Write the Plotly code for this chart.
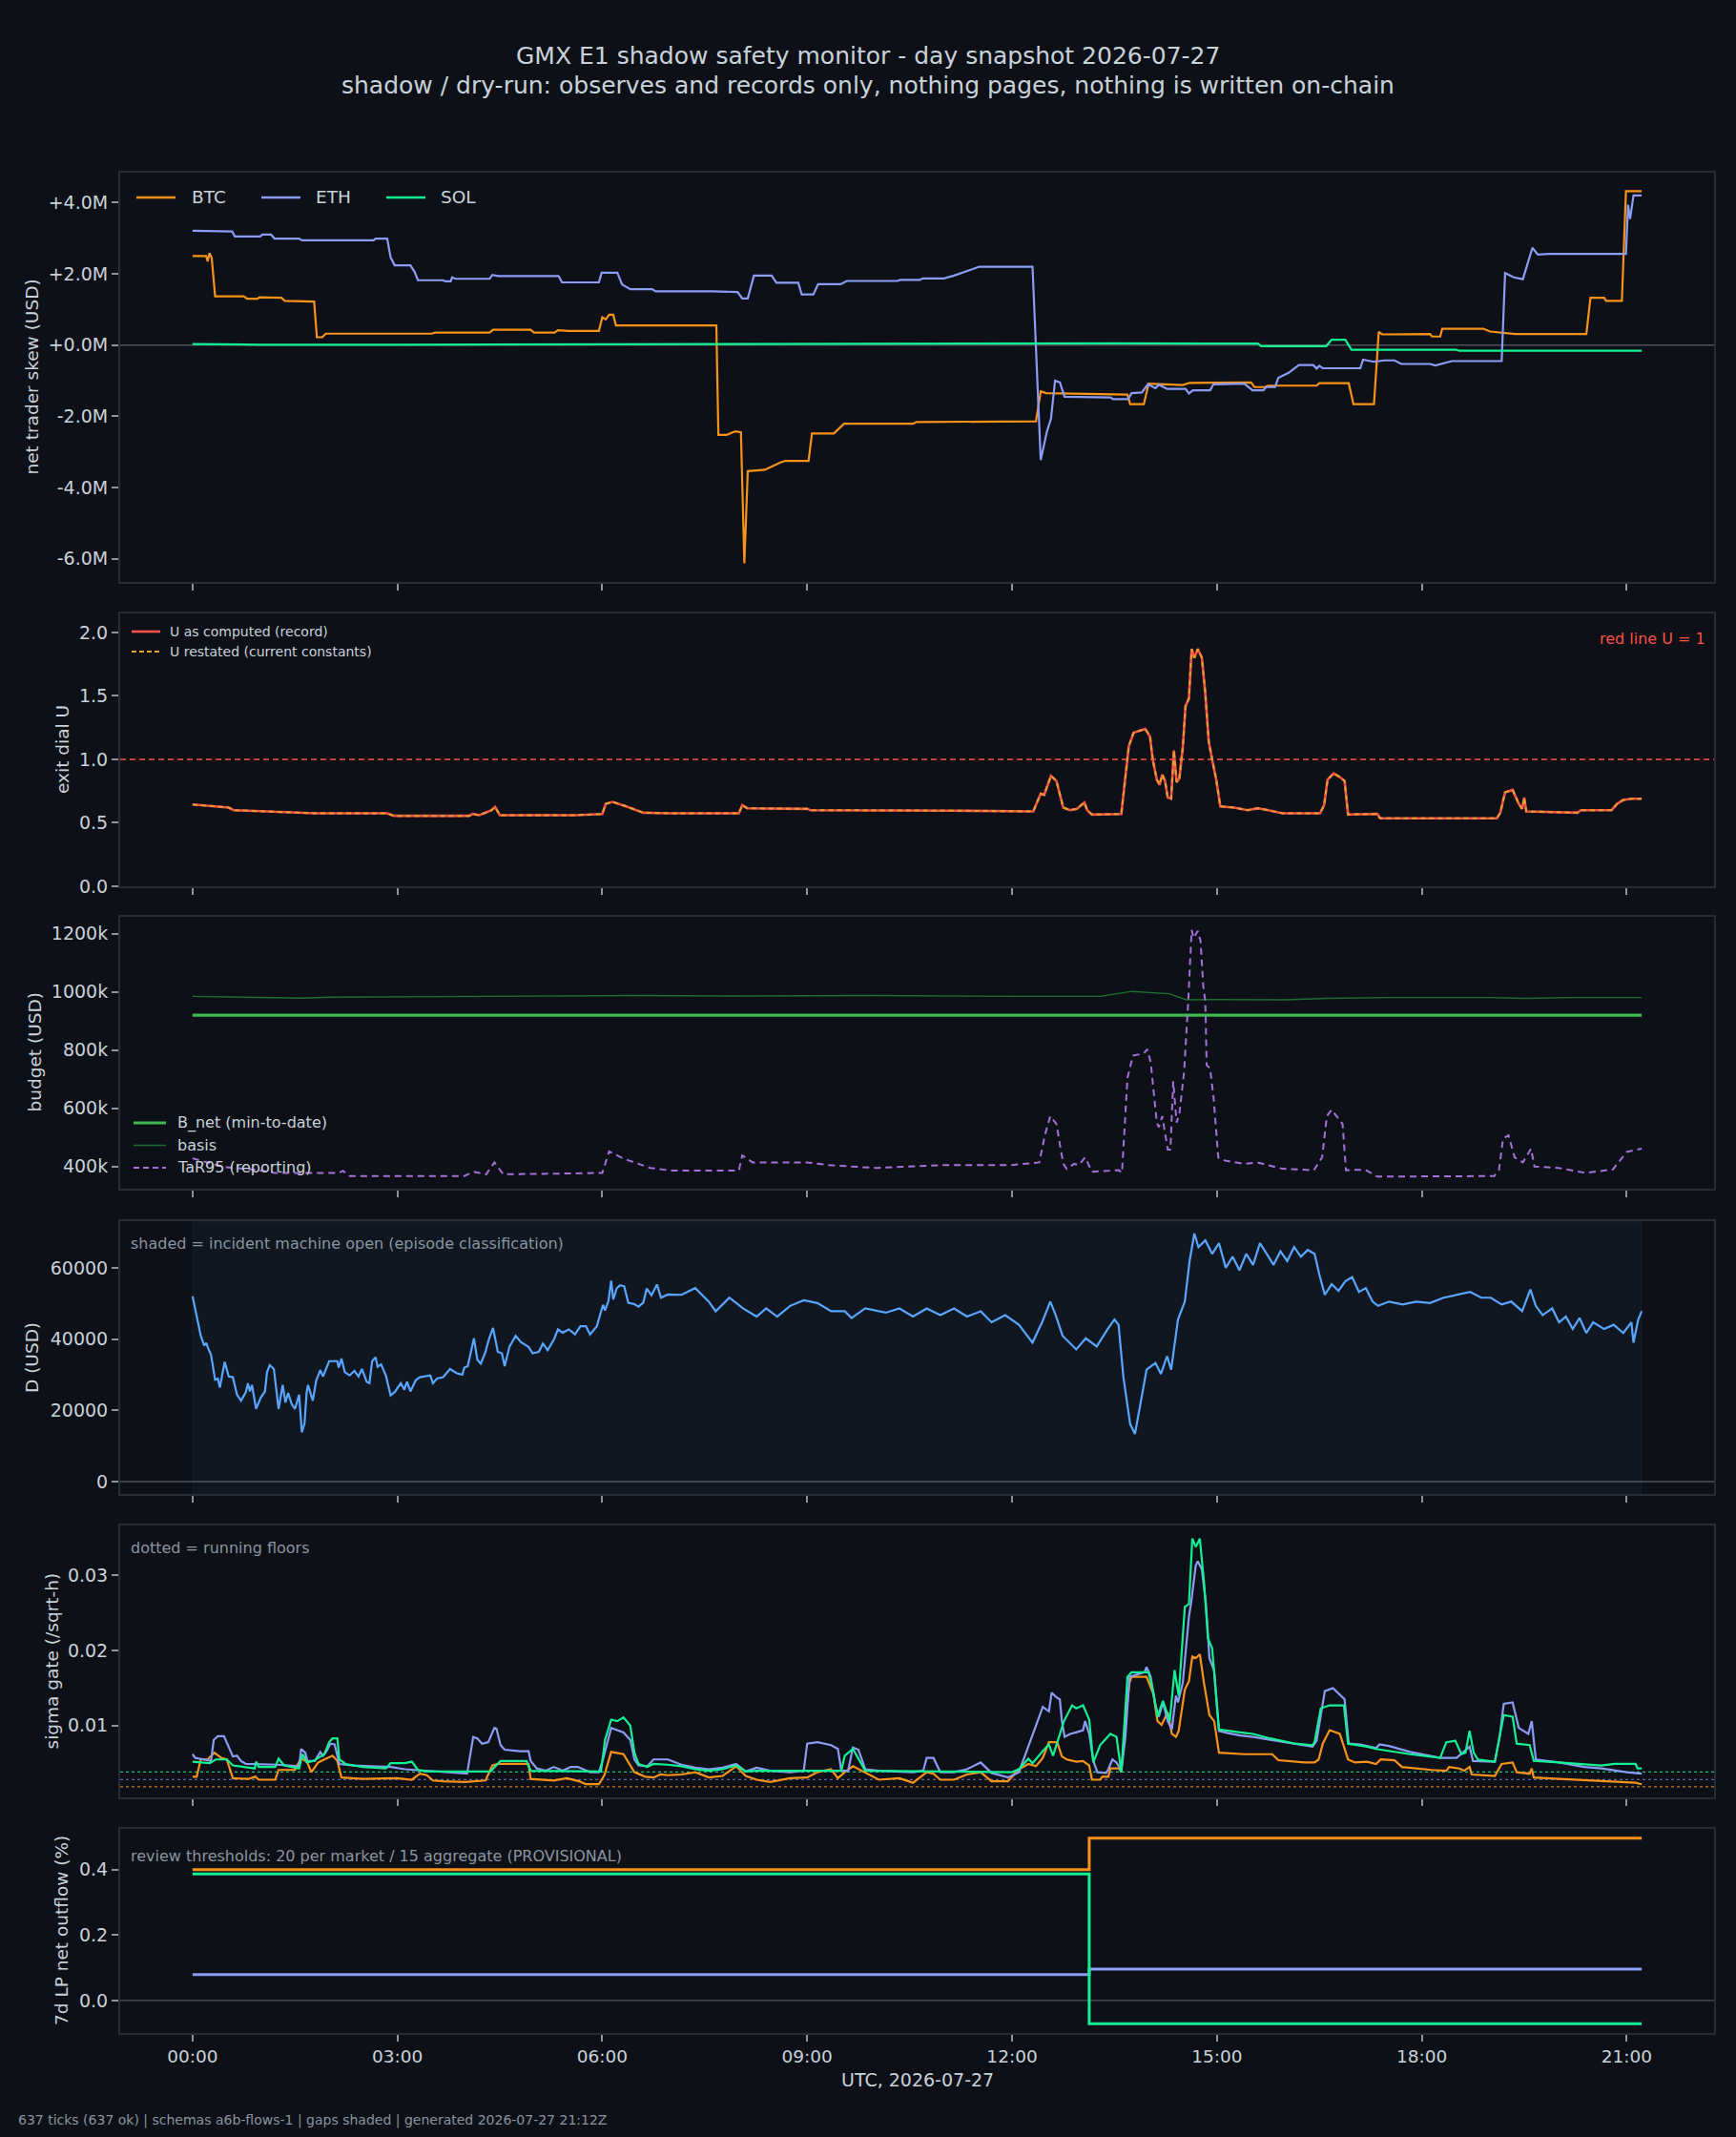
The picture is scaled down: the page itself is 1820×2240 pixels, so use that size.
import plotly.graph_objects as go

# ---------------- data (x = hours since 2026-07-27 00:00 UTC) ----------------
hour_ticks = [0, 3, 6, 9, 12, 15, 18, 21]
hour_labels = ["00:00", "03:00", "06:00", "09:00", "12:00", "15:00", "18:00", "21:00"]

# panel 1: net trader skew, USD millions
btc_skew = [(0, 2.50), (0.2, 2.50), (0.22, 2.35), (0.25, 2.58), (0.28, 2.45), (0.33, 1.37), (0.75, 1.37),
            (0.8, 1.30), (0.95, 1.30), (0.98, 1.34), (1.3, 1.33), (1.35, 1.24), (1.78, 1.22), (1.82, 0.22),
            (1.9, 0.22), (1.95, 0.32), (3.5, 0.32), (3.55, 0.35), (4.35, 0.35), (4.4, 0.43), (4.95, 0.43),
            (5.0, 0.35), (5.3, 0.35), (5.35, 0.42), (5.5, 0.40), (5.95, 0.40), (6.0, 0.78), (6.05, 0.72),
            (6.1, 0.85), (6.16, 0.85), (6.2, 0.55), (7.67, 0.55), (7.70, -2.52), (7.82, -2.52), (7.95, -2.42),
            (8.03, -2.45), (8.08, -6.13), (8.13, -3.54), (8.38, -3.50), (8.6, -3.30), (8.68, -3.25),
            (9.02, -3.25), (9.07, -2.48), (9.39, -2.48), (9.54, -2.21), (10.55, -2.21), (10.6, -2.16),
            (12.35, -2.14), (12.42, -1.30), (12.5, -1.35), (13.69, -1.39), (13.73, -1.66), (13.93, -1.66),
            (14.0, -1.08), (14.5, -1.12), (14.6, -1.06), (15.5, -1.05), (15.55, -1.18), (15.7, -1.18),
            (15.75, -1.14), (16.46, -1.14), (16.5, -1.07), (16.93, -1.07), (17.0, -1.66), (17.3, -1.66),
            (17.37, 0.37), (17.42, 0.30), (18.12, 0.31), (18.15, 0.24), (18.27, 0.24), (18.3, 0.46),
            (18.9, 0.46), (19.0, 0.38), (19.37, 0.31), (20.41, 0.31), (20.47, 1.33), (20.67, 1.33),
            (20.7, 1.24), (20.93, 1.24), (20.99, 4.32), (21.22, 4.32)]
eth_skew = [(0, 3.21), (0.58, 3.19), (0.62, 3.05), (0.99, 3.05), (1.02, 3.10), (1.15, 3.10), (1.2, 2.99),
            (1.56, 2.99), (1.6, 2.94), (2.65, 2.94), (2.68, 2.99), (2.85, 2.99), (2.9, 2.46), (2.96, 2.24),
            (3.19, 2.24), (3.25, 2.06), (3.3, 1.82), (3.67, 1.82), (3.7, 1.79), (3.78, 1.79), (3.8, 1.90),
            (3.85, 1.86), (4.35, 1.86), (4.39, 1.97), (4.48, 1.94), (5.36, 1.94), (5.41, 1.76), (5.95, 1.76),
            (5.99, 2.03), (6.22, 2.03), (6.29, 1.70), (6.41, 1.57), (6.73, 1.57), (6.78, 1.51), (7.61, 1.51),
            (7.98, 1.49), (8.05, 1.31), (8.13, 1.31), (8.22, 1.95), (8.48, 1.95), (8.55, 1.75), (8.87, 1.75),
            (8.92, 1.42), (9.09, 1.42), (9.16, 1.71), (9.49, 1.71), (9.58, 1.80), (10.32, 1.80), (10.36, 1.83),
            (10.65, 1.83), (10.69, 1.87), (11.0, 1.87), (11.15, 1.95), (11.36, 2.09), (11.52, 2.20),
            (12.30, 2.20), (12.42, -3.23), (12.51, -2.43), (12.57, -2.07), (12.63, -1.00), (12.7, -1.05),
            (12.77, -1.45), (13.44, -1.47), (13.48, -1.52), (13.70, -1.52), (13.75, -1.35), (13.9, -1.33),
            (13.99, -1.10), (14.1, -1.21), (14.15, -1.11), (14.27, -1.23), (14.54, -1.23), (14.59, -1.36),
            (14.65, -1.27), (14.9, -1.27), (14.95, -1.10), (15.26, -1.10), (15.4, -1.08), (15.52, -1.27),
            (15.68, -1.27), (15.72, -1.18), (15.85, -1.18), (15.9, -0.92), (16.05, -0.78), (16.2, -0.56),
            (16.41, -0.56), (16.46, -0.66), (16.5, -0.58), (16.55, -0.65), (17.1, -0.65), (17.14, -0.41),
            (17.3, -0.47), (17.45, -0.43), (17.6, -0.43), (17.7, -0.53), (18.12, -0.53), (18.2, -0.57),
            (18.44, -0.45), (19.17, -0.45), (19.22, 2.02), (19.35, 1.90), (19.48, 1.85), (19.62, 2.73),
            (19.7, 2.54), (19.85, 2.56), (20.99, 2.56), (21.02, 3.94), (21.05, 3.54), (21.1, 4.20), (21.22, 4.20)]
sol_skew = [(0, 0.03), (1.0, 0.01), (3.0, 0.01), (6.0, 0.02), (9.0, 0.03), (12.3, 0.05), (12.4, 0.06),
            (13.5, 0.05), (15.6, 0.04), (15.65, -0.03), (16.6, -0.03), (16.68, 0.15), (16.88, 0.15),
            (16.97, -0.13), (18.5, -0.13), (18.55, -0.16), (21.22, -0.16)]

# panel 2: exit dial U
u_computed = [(0, 0.645), (0.3, 0.63), (0.53, 0.62), (0.6, 0.60), (1.0, 0.59), (1.36, 0.585), (1.8, 0.575),
              (2.85, 0.575), (2.95, 0.555), (4.05, 0.555), (4.1, 0.57), (4.2, 0.56), (4.38, 0.60), (4.43, 0.625),
              (4.5, 0.56), (5.6, 0.56), (6.0, 0.57), (6.05, 0.65), (6.15, 0.665), (6.35, 0.63), (6.6, 0.58),
              (7.0, 0.575), (8.0, 0.575), (8.05, 0.64), (8.12, 0.615), (9.0, 0.61), (9.05, 0.60), (11.14, 0.596),
              (12.31, 0.59), (12.42, 0.73), (12.47, 0.72), (12.57, 0.87), (12.65, 0.83), (12.75, 0.62),
              (12.85, 0.60), (12.95, 0.61), (13.06, 0.66), (13.1, 0.60), (13.17, 0.565), (13.6, 0.57),
              (13.71, 1.105), (13.78, 1.21), (13.95, 1.24), (14.02, 1.18), (14.06, 1.0), (14.12, 0.84),
              (14.16, 0.80), (14.2, 0.88), (14.24, 0.83), (14.28, 0.70), (14.33, 0.69), (14.37, 1.07),
              (14.41, 0.82), (14.45, 0.85), (14.5, 1.09), (14.54, 1.42), (14.59, 1.48), (14.63, 1.87),
              (14.67, 1.80), (14.72, 1.87), (14.78, 1.80), (14.83, 1.52), (14.88, 1.14), (14.93, 1.0),
              (14.99, 0.84), (15.05, 0.63), (15.25, 0.62), (15.45, 0.60), (15.6, 0.615), (15.75, 0.60),
              (15.96, 0.575), (16.51, 0.575), (16.57, 0.64), (16.62, 0.84), (16.71, 0.89), (16.8, 0.86),
              (16.87, 0.83), (16.92, 0.566), (17.35, 0.57), (17.39, 0.536), (19.1, 0.536), (19.15, 0.58),
              (19.22, 0.74), (19.33, 0.76), (19.42, 0.65), (19.47, 0.61), (19.5, 0.70), (19.53, 0.59),
              (20.28, 0.58), (20.33, 0.60), (20.78, 0.60), (20.86, 0.65), (20.95, 0.68), (21.07, 0.69),
              (21.22, 0.69)]
u_restated = list(u_computed)  # restated values coincide with the record on this day
u_red_line = 1.0

# panel 3: budget, USD thousands
b_net = [(0, 920), (21.22, 920)]
basis = [(0, 985), (0.5, 983), (1.0, 981), (1.6, 979), (2.0, 982), (3.0, 983), (4.4, 986), (5.5, 985),
         (6.5, 988), (8.0, 986), (10.0, 988), (12.0, 985), (12.54, 984), (13.3, 985), (13.75, 1002),
         (14.0, 999), (14.3, 994), (14.55, 973), (15.0, 974), (16.0, 973), (16.6, 978), (17.5, 981),
         (19.0, 981), (19.5, 978), (20.2, 981), (21.22, 981)]
tar95 = [(0, 428), (0.27, 409), (0.46, 398), (0.9, 389), (1.2, 378), (2.15, 378), (2.2, 385), (2.3, 367),
         (3.98, 367), (4.11, 382), (4.3, 373), (4.42, 414), (4.55, 373), (5.57, 376), (6.0, 378), (6.1, 452),
         (6.3, 428), (6.7, 395), (7.0, 386), (8.0, 386), (8.05, 438), (8.2, 414), (9.0, 414), (9.3, 405),
         (10.0, 395), (11.0, 405), (12.0, 405), (12.4, 414), (12.48, 507), (12.56, 573), (12.65, 546),
         (12.75, 409), (12.8, 392), (12.91, 409), (12.98, 405), (13.07, 431), (13.17, 382), (13.56, 387),
         (13.61, 378), (13.69, 704), (13.77, 781), (13.93, 789), (13.98, 803), (14.03, 759), (14.12, 551),
         (14.15, 535), (14.2, 573), (14.28, 458), (14.32, 458), (14.36, 693), (14.41, 551), (14.45, 580),
         (14.52, 727), (14.58, 967), (14.63, 1213), (14.66, 1186), (14.72, 1210), (14.76, 1176), (14.8, 1021),
         (14.83, 967), (14.85, 748), (14.9, 737), (14.95, 639), (15.02, 431), (15.12, 420), (15.4, 409),
         (15.59, 414), (15.96, 392), (16.42, 387), (16.54, 431), (16.61, 573), (16.68, 595), (16.84, 546),
         (16.89, 387), (17.17, 389), (17.35, 365), (19.06, 367), (19.13, 387), (19.19, 496), (19.27, 507),
         (19.36, 431), (19.48, 414), (19.6, 461), (19.65, 400), (20.0, 395), (20.4, 378), (20.8, 390),
         (21.0, 450), (21.22, 461)]

# panel 4: D (USD)
d_usd = [(0.00, 52000), (0.04, 48000), (0.07, 45500), (0.12, 40900), (0.17, 38200), (0.20, 38900), (0.23, 37300),
         (0.27, 35600), (0.33, 28600), (0.37, 28900), (0.40, 26400), (0.47, 33600), (0.53, 29500), (0.59, 29300),
         (0.65, 24400), (0.71, 22700), (0.78, 25100), (0.81, 27600), (0.84, 25300), (0.87, 27100), (0.93, 20400),
         (1.0, 23600), (1.06, 25300), (1.09, 30700), (1.13, 32700), (1.19, 31600), (1.26, 20400), (1.32, 27100),
         (1.36, 22200), (1.40, 24900), (1.45, 21800), (1.50, 20400), (1.56, 24400), (1.60, 13800), (1.64, 16400),
         (1.67, 24900), (1.69, 27100), (1.76, 22700), (1.81, 28300), (1.87, 31300), (1.91, 29500), (2.0, 33800),
         (2.12, 33800), (2.14, 32000), (2.18, 34500), (2.23, 30700), (2.30, 29800), (2.37, 31100), (2.43, 29500),
         (2.48, 31600), (2.55, 28000), (2.59, 27600), (2.63, 33800), (2.68, 34900), (2.71, 32200), (2.76, 32900),
         (2.83, 29800), (2.90, 24200), (2.96, 25100), (3.05, 27600), (3.10, 25800), (3.14, 28000), (3.19, 25300),
         (3.27, 28500), (3.33, 29300), (3.42, 29500), (3.48, 29800), (3.52, 27600), (3.58, 28900), (3.67, 29300),
         (3.77, 31600), (3.87, 30400), (3.95, 30000), (3.98, 32000), (4.03, 32400), (4.12, 40200), (4.17, 34200),
         (4.22, 33100), (4.29, 36400), (4.34, 40000), (4.40, 43100), (4.47, 36400), (4.53, 36000), (4.57, 32400),
         (4.64, 37800), (4.73, 40900), (4.81, 39100), (4.92, 37800), (4.98, 36000), (5.07, 36400), (5.13, 38700),
         (5.20, 36900), (5.29, 39800), (5.35, 42700), (5.42, 41800), (5.51, 42700), (5.60, 41300), (5.68, 43600),
         (5.76, 43600), (5.82, 41300), (5.92, 43600), (6.01, 49600), (6.04, 48000), (6.09, 50700), (6.13, 56400),
         (6.16, 51100), (6.21, 54200), (6.26, 55100), (6.32, 54800), (6.38, 50200), (6.47, 49800), (6.53, 49100),
         (6.60, 50200), (6.65, 54200), (6.72, 52300), (6.80, 55300), (6.86, 51600), (6.96, 52500), (7.16, 52400),
         (7.36, 54300), (7.56, 50500), (7.66, 47800), (7.86, 51600), (8.06, 48600), (8.26, 46300), (8.4, 48600),
         (8.56, 46300), (8.75, 49300), (8.95, 50900), (9.15, 50100), (9.35, 47800), (9.55, 47800), (9.65, 45900),
         (9.85, 48600), (10.15, 47400), (10.35, 48600), (10.55, 46300), (10.75, 48600), (10.95, 46700),
         (11.15, 48600), (11.34, 46300), (11.54, 47800), (11.7, 44700), (11.9, 46700), (12.1, 44000),
         (12.3, 39000), (12.44, 44700), (12.56, 50500), (12.64, 46700), (12.74, 40900), (12.94, 37100),
         (13.08, 40200), (13.24, 37900), (13.4, 42800), (13.5, 45500), (13.56, 44000), (13.63, 29400),
         (13.73, 16100), (13.8, 13400), (13.88, 21800), (13.97, 31400), (14.1, 33300), (14.18, 30200),
         (14.27, 35200), (14.33, 31400), (14.43, 45500), (14.53, 50500), (14.6, 61900), (14.67, 69600),
         (14.73, 65800), (14.83, 67700), (14.93, 63900), (15.03, 66900), (15.13, 60000), (15.23, 63100),
         (15.33, 59300), (15.43, 63900), (15.53, 60800), (15.63, 66900), (15.73, 63900), (15.83, 60800),
         (15.93, 64600), (16.03, 61900), (16.13, 65800), (16.23, 63100), (16.33, 65000), (16.43, 63900),
         (16.5, 58100), (16.58, 52400), (16.68, 55400), (16.78, 53500), (16.88, 56200), (16.98, 57400),
         (17.08, 53200), (17.18, 54300), (17.28, 50500), (17.36, 49300), (17.52, 50500), (17.72, 49700),
         (17.92, 50500), (18.12, 50100), (18.32, 51600), (18.52, 52400), (18.71, 53200), (18.87, 51600),
         (19.01, 51600), (19.17, 49700), (19.31, 50500), (19.47, 47800), (19.59, 53900), (19.67, 49300),
         (19.77, 46700), (19.91, 48600), (20.01, 44700), (20.11, 46300), (20.21, 42800), (20.31, 45900),
         (20.41, 41700), (20.51, 44700), (20.67, 42800), (20.81, 44000), (20.95, 41700), (21.07, 44700),
         (21.1, 39000), (21.17, 45500), (21.22, 47800)]
incident_open = (0.0, 21.22)

# panel 5: sigma gate (/sqrt-h)
eth_sigma = [(0.00, 0.0062), (0.04, 0.0057), (0.16, 0.0055), (0.27, 0.0053), (0.31, 0.0081), (0.37, 0.0086),
             (0.46, 0.0086), (0.53, 0.0072), (0.59, 0.0059), (0.65, 0.0060), (0.71, 0.0053), (0.78, 0.0049),
             (1.24, 0.0048), (1.56, 0.0046), (1.59, 0.0069), (1.65, 0.0064), (1.68, 0.0053), (1.79, 0.0053),
             (1.87, 0.0065), (1.91, 0.0060), (1.96, 0.0066), (2.02, 0.0076), (2.08, 0.0075), (2.15, 0.0049),
             (2.36, 0.0047), (2.61, 0.0046), (2.9, 0.0045), (3.11, 0.0042), (3.43, 0.0040), (3.74, 0.0038),
             (4.02, 0.0036), (4.11, 0.0085), (4.17, 0.0083), (4.24, 0.0076), (4.33, 0.0078), (4.42, 0.0097),
             (4.45, 0.0096), (4.51, 0.0074), (4.57, 0.0068), (4.79, 0.0066), (4.92, 0.0066), (4.95, 0.0053),
             (5.04, 0.0043), (5.17, 0.0040), (5.29, 0.0045), (5.42, 0.0040), (5.54, 0.0045), (5.64, 0.0045),
             (5.82, 0.0038), (5.95, 0.0038), (6.01, 0.0055), (6.13, 0.0097), (6.22, 0.0094), (6.31, 0.0091),
             (6.41, 0.0081), (6.47, 0.0055), (6.53, 0.0047), (6.66, 0.0046), (6.75, 0.0055), (6.96, 0.0055),
             (7.16, 0.0048), (7.36, 0.0044), (7.56, 0.0042), (7.76, 0.0044), (7.96, 0.0049), (8.1, 0.0039),
             (8.26, 0.0044), (8.46, 0.0040), (8.75, 0.0038), (8.95, 0.0040), (9.0, 0.0076), (9.15, 0.0078),
             (9.35, 0.0074), (9.45, 0.0069), (9.5, 0.0040), (9.6, 0.0040), (9.67, 0.0071), (9.75, 0.0068),
             (9.85, 0.0042), (10.05, 0.0040), (10.55, 0.0038), (10.7, 0.0040), (10.75, 0.0057), (10.85, 0.0057),
             (10.95, 0.0038), (11.15, 0.0038), (11.34, 0.0042), (11.54, 0.0051), (11.7, 0.0037), (11.94, 0.0031),
             (12.1, 0.0038), (12.24, 0.0074), (12.35, 0.0100), (12.45, 0.0125), (12.54, 0.0119), (12.58, 0.0144),
             (12.66, 0.0137), (12.70, 0.0135), (12.73, 0.0106), (12.77, 0.0085), (12.85, 0.0089), (12.94, 0.0091),
             (13.04, 0.0094), (13.07, 0.0106), (13.13, 0.0089), (13.19, 0.0053), (13.25, 0.0038), (13.38, 0.0037),
             (13.41, 0.0042), (13.47, 0.0055), (13.53, 0.0051), (13.6, 0.0040), (13.66, 0.0085), (13.72, 0.0165),
             (13.94, 0.0171), (13.97, 0.0178), (14.03, 0.0165), (14.1, 0.0127), (14.15, 0.0112), (14.21, 0.0131),
             (14.28, 0.0106), (14.34, 0.0095), (14.4, 0.0140), (14.43, 0.0131), (14.5, 0.0157), (14.59, 0.0245),
             (14.62, 0.0262), (14.69, 0.0313), (14.72, 0.0319), (14.78, 0.0308), (14.84, 0.0262), (14.89, 0.0190),
             (14.96, 0.0173), (15.03, 0.0093), (15.16, 0.0090), (15.34, 0.0087), (15.53, 0.0085), (15.78, 0.0081),
             (16.28, 0.0074), (16.4, 0.0072), (16.46, 0.0080), (16.58, 0.0146), (16.7, 0.0150), (16.87, 0.0135),
             (16.93, 0.0076), (17.1, 0.0075), (17.33, 0.0070), (17.38, 0.0075), (17.52, 0.0073), (17.83, 0.0065),
             (18.27, 0.0057), (18.51, 0.0057), (18.7, 0.0072), (18.75, 0.0053), (19.07, 0.0052), (19.14, 0.0085),
             (19.2, 0.0129), (19.33, 0.0131), (19.42, 0.0097), (19.56, 0.0089), (19.61, 0.0106), (19.67, 0.0055),
             (20.01, 0.0051), (20.38, 0.0045), (20.63, 0.0043), (21.0, 0.0038), (21.22, 0.0036)]
sol_sigma = [(0.00, 0.0052), (0.25, 0.0050), (0.34, 0.0055), (0.50, 0.0055), (0.59, 0.0047), (0.78, 0.0045),
             (0.91, 0.0043), (0.93, 0.0052), (0.97, 0.0045), (1.21, 0.0045), (1.26, 0.0056), (1.34, 0.0047),
             (1.56, 0.0043), (1.61, 0.0062), (1.68, 0.0051), (1.77, 0.0053), (1.93, 0.0062), (2.0, 0.0078),
             (2.05, 0.0083), (2.12, 0.0083), (2.15, 0.0055), (2.24, 0.0049), (2.49, 0.0045), (2.83, 0.0043),
             (2.9, 0.0050), (3.11, 0.0050), (3.21, 0.0052), (3.30, 0.0041), (3.43, 0.0039), (4.36, 0.0039),
             (4.42, 0.0045), (4.51, 0.0053), (4.89, 0.0053), (4.95, 0.0040), (5.98, 0.0039), (6.04, 0.0081),
             (6.13, 0.0108), (6.22, 0.0106), (6.31, 0.0111), (6.41, 0.0100), (6.47, 0.0064), (6.53, 0.0049),
             (6.66, 0.0045), (6.75, 0.0049), (6.96, 0.0048), (7.16, 0.0046), (7.36, 0.0042), (7.56, 0.0040),
             (7.76, 0.0042), (7.96, 0.0047), (8.1, 0.0039), (8.26, 0.0040), (9.5, 0.0040), (9.55, 0.0060),
             (9.67, 0.0069), (9.75, 0.0056), (9.85, 0.0040), (12.0, 0.0038), (12.1, 0.0042), (12.24, 0.0056),
             (12.3, 0.0050), (12.45, 0.0066), (12.54, 0.0075), (12.6, 0.0060), (12.76, 0.0106), (12.88, 0.0127),
             (12.94, 0.0123), (13.04, 0.0127), (13.13, 0.0108), (13.19, 0.0051), (13.29, 0.0074), (13.44, 0.0089),
             (13.53, 0.0085), (13.6, 0.0038), (13.69, 0.0165), (13.75, 0.0171), (14.0, 0.0171), (14.07, 0.0144),
             (14.13, 0.0112), (14.21, 0.0133), (14.28, 0.0114), (14.31, 0.0106), (14.38, 0.0174), (14.44, 0.0140),
             (14.53, 0.0258), (14.59, 0.0262), (14.64, 0.0349), (14.69, 0.0338), (14.75, 0.0349), (14.81, 0.0292),
             (14.87, 0.0216), (14.93, 0.0203), (15.03, 0.0095), (15.16, 0.0093), (15.34, 0.0091), (15.53, 0.0089),
             (15.78, 0.0083), (16.15, 0.0076), (16.4, 0.0074), (16.43, 0.0078), (16.52, 0.0123), (16.65, 0.0127),
             (16.86, 0.0127), (16.92, 0.0076), (17.2, 0.0072), (17.33, 0.0069), (17.83, 0.0062), (18.27, 0.0057),
             (18.36, 0.0078), (18.49, 0.0080), (18.58, 0.0062), (18.64, 0.0064), (18.7, 0.0093), (18.76, 0.0064),
             (18.82, 0.0055), (19.07, 0.0052), (19.14, 0.0085), (19.2, 0.0114), (19.33, 0.0112), (19.39, 0.0076),
             (19.58, 0.0074), (19.64, 0.0053), (20.01, 0.0051), (20.32, 0.0049), (20.63, 0.0047), (20.82, 0.0049),
             (21.13, 0.0049), (21.16, 0.0043), (21.22, 0.0043)]
btc_sigma = [(0.00, 0.0032), (0.06, 0.0032), (0.12, 0.0055), (0.22, 0.0055), (0.32, 0.0064), (0.42, 0.0057),
             (0.50, 0.0055), (0.59, 0.0030), (0.81, 0.0029), (0.92, 0.0032), (0.97, 0.0028), (1.21, 0.0028),
             (1.26, 0.0041), (1.50, 0.0041), (1.59, 0.0057), (1.68, 0.0051), (1.74, 0.0038), (1.84, 0.0051),
             (1.93, 0.0055), (2.05, 0.0060), (2.12, 0.0053), (2.18, 0.0031), (2.49, 0.0029), (2.99, 0.0030),
             (3.21, 0.0028), (3.33, 0.0036), (3.43, 0.0034), (3.52, 0.0027), (3.67, 0.0026), (3.99, 0.0025),
             (4.29, 0.0027), (4.39, 0.0047), (4.48, 0.0049), (4.92, 0.0049), (4.95, 0.0029), (5.29, 0.0027),
             (5.48, 0.0030), (5.66, 0.0026), (5.76, 0.0022), (5.95, 0.0022), (6.03, 0.0034), (6.13, 0.0065),
             (6.31, 0.0062), (6.47, 0.0038), (6.63, 0.0032), (6.75, 0.0031), (6.85, 0.0035), (6.96, 0.0034),
             (7.16, 0.0035), (7.36, 0.0038), (7.56, 0.0031), (7.76, 0.0033), (7.96, 0.0046), (8.1, 0.0033),
             (8.26, 0.0028), (8.46, 0.0025), (8.75, 0.0030), (9.0, 0.0031), (9.15, 0.0038), (9.35, 0.0042),
             (9.45, 0.0030), (9.55, 0.0038), (9.67, 0.0046), (9.75, 0.0042), (9.85, 0.0038), (10.05, 0.0028),
             (10.35, 0.0030), (10.55, 0.0024), (10.75, 0.0038), (10.85, 0.0036), (10.95, 0.0028), (11.15, 0.0028),
             (11.34, 0.0035), (11.54, 0.0038), (11.7, 0.0026), (11.94, 0.0026), (12.1, 0.0042), (12.24, 0.0049),
             (12.35, 0.0046), (12.45, 0.0057), (12.54, 0.0078), (12.66, 0.0078), (12.73, 0.0059), (12.8, 0.0055),
             (12.94, 0.0052), (13.04, 0.0053), (13.13, 0.0047), (13.17, 0.0028), (13.29, 0.0028), (13.32, 0.0032),
             (13.41, 0.0032), (13.44, 0.0043), (13.57, 0.0043), (13.6, 0.0038), (13.66, 0.0106), (13.72, 0.0157),
             (13.75, 0.0165), (13.97, 0.0165), (14.07, 0.0142), (14.13, 0.0106), (14.19, 0.0101), (14.28, 0.0118),
             (14.34, 0.0089), (14.4, 0.0085), (14.44, 0.0093), (14.53, 0.0148), (14.59, 0.0159), (14.64, 0.0192),
             (14.69, 0.0190), (14.75, 0.0195), (14.81, 0.0157), (14.89, 0.0114), (14.96, 0.0106), (15.03, 0.0064),
             (15.4, 0.0062), (15.81, 0.0062), (15.9, 0.0054), (16.28, 0.0051), (16.43, 0.0051), (16.49, 0.0055),
             (16.55, 0.0076), (16.65, 0.0094), (16.8, 0.0089), (16.92, 0.0055), (17.02, 0.0051), (17.2, 0.0052),
             (17.33, 0.0049), (17.4, 0.0055), (17.6, 0.0054), (17.71, 0.0045), (18.14, 0.0041), (18.36, 0.0040),
             (18.4, 0.0045), (18.55, 0.0043), (18.62, 0.0040), (18.7, 0.0045), (18.73, 0.0035), (19.07, 0.0033),
             (19.17, 0.0049), (19.33, 0.0051), (19.39, 0.0038), (19.58, 0.0036), (19.61, 0.0043), (19.64, 0.0031),
             (20.01, 0.0029), (20.63, 0.0026), (21.13, 0.0024), (21.22, 0.0022)]
sigma_floors = {"BTC": 0.00186, "ETH": 0.00283, "SOL": 0.00384}

# panel 6: 7d LP net outflow (%)
outflow_t = [0.0, 13.13, 21.22]
btc_outflow = [0.400, 0.496, 0.496]
eth_outflow = [0.079, 0.096, 0.096]
sol_outflow = [0.387, -0.071, -0.071]

# ---------------- styling ----------------
BG = "#0d1117"
FRAME = "#272d36"
TXT = "#c9d1d9"
MUTED = "#8b949e"
C_BTC, C_ETH, C_SOL = "#f7931a", "#8c9cf4", "#14f195"
C_U, C_UR, C_RED = "#f85149", "#e3a02f", "#f85149"
C_BNET, C_BASIS, C_TAR = "#3fb950", "#1f6d31", "#a371d9"
FONT = "DejaVu Sans"
W, H = 1820, 2240
XL, XR = 126, 1797
panels_px = [(181, 610), (643, 929), (961, 1246), (1280, 1566), (1599, 1884), (1917, 2131)]
XRANGE = [-1.06, 22.28]


def unzip(pairs):
    return [p[0] for p in pairs], [p[1] for p in pairs]


def ydom(top, bot):
    return [1 - bot / H, 1 - top / H]


def px(x):
    return x / W


def py(y):
    return 1 - y / H


fig = go.Figure()


def add_line(pairs, idx, color, width, dash=None, shape="linear"):
    x, y = unzip(pairs)
    fig.add_trace(go.Scatter(
        x=x, y=y, mode="lines", showlegend=False,
        line=dict(color=color, width=width, dash=dash, shape=shape),
        xaxis="x" if idx == 1 else f"x{idx}", yaxis="y" if idx == 1 else f"y{idx}",
        hoverinfo="skip"))


# panel 1
add_line(btc_skew, 1, C_BTC, 2.2)
add_line(eth_skew, 1, C_ETH, 2.2)
add_line(sol_skew, 1, C_SOL, 2.2)
# panel 2
add_line(u_computed, 2, C_U, 2.6)
add_line(u_restated, 2, C_UR, 2.0, dash="5px,4px")
# panel 3
add_line(b_net, 3, C_BNET, 3.2)
add_line(basis, 3, C_BASIS, 1.4)
add_line(tar95, 3, C_TAR, 2.0, dash="7px,5px")
# panel 4
add_line(d_usd, 4, "#58a6ff", 2.2)
# panel 5
add_line(btc_sigma, 5, C_BTC, 2.2)
add_line(eth_sigma, 5, C_ETH, 2.2)
add_line(sol_sigma, 5, C_SOL, 2.2)
# panel 6
add_line(list(zip(outflow_t, btc_outflow)), 6, C_BTC, 3, shape="hv")
add_line(list(zip(outflow_t, eth_outflow)), 6, C_ETH, 3, shape="hv")
add_line(list(zip(outflow_t, sol_outflow)), 6, C_SOL, 3, shape="hv")

yranges = [[-6.65, 4.84], [0, 2.15], [323.5, 1258.5], [-3480, 73080], [0.00045, 0.03665], [-0.0995, 0.5245]]
ytickvals = [[-6, -4, -2, 0, 2, 4], [0, 0.5, 1.0, 1.5, 2.0], [400, 600, 800, 1000, 1200],
             [0, 20000, 40000, 60000], [0.01, 0.02, 0.03], [0.0, 0.2, 0.4]]
yticktext = [["-6.0M", "-4.0M", "-2.0M", "+0.0M", "+2.0M", "+4.0M"], ["0.0", "0.5", "1.0", "1.5", "2.0"],
             ["400k", "600k", "800k", "1000k", "1200k"], ["0", "20000", "40000", "60000"],
             ["0.01", "0.02", "0.03"], ["0.0", "0.2", "0.4"]]
ytitles = ["net trader skew (USD)", "exit dial U", "budget (USD)", "D (USD)", "sigma gate (/sqrt-h)",
           "7d LP net outflow (%)"]
ytitle_x = [33, 65, 36, 33, 54, 64]

axes = {}
for i, (top, bot) in enumerate(panels_px, start=1):
    sfx = "" if i == 1 else str(i)
    axes[f"xaxis{sfx}"] = dict(
        domain=[XL / W, XR / W], range=XRANGE, anchor=f"y{sfx}", tickvals=hour_ticks, ticktext=hour_labels,
        showticklabels=(i == 6), ticks="outside", ticklen=7, tickwidth=1.5, tickcolor=MUTED,
        tickfont=dict(size=18.5, color=TXT, family=FONT), showline=True, mirror=True, linecolor=FRAME,
        linewidth=2, showgrid=False, zeroline=False, automargin=False)
    axes[f"yaxis{sfx}"] = dict(
        domain=ydom(top, bot), range=yranges[i - 1], anchor=f"x{sfx}", tickvals=ytickvals[i - 1],
        ticktext=yticktext[i - 1], ticks="outside", ticklen=7, tickwidth=1.5, tickcolor=MUTED,
        tickfont=dict(size=19, color=TXT, family=FONT), showline=True, mirror=True, linecolor=FRAME,
        linewidth=2, showgrid=False, zeroline=False, automargin=False)

shapes = []
annotations = []
# zero lines
for i in (1, 4, 6):
    sfx = "" if i == 1 else str(i)
    shapes.append(dict(type="line", xref=f"x{sfx} domain", yref=f"y{sfx}", x0=0, x1=1, y0=0, y1=0,
                       line=dict(color="#4d535c", width=1.4), layer="below"))
# red line U = 1
shapes.append(dict(type="line", xref="x2 domain", yref="y2", x0=0, x1=1, y0=u_red_line, y1=u_red_line,
                   line=dict(color=C_RED, width=1.6, dash="6px,4px"), layer="below"))
# incident machine open shading
shapes.append(dict(type="rect", xref="x4", yref="y4 domain", x0=incident_open[0], x1=incident_open[1], y0=0, y1=1,
                   fillcolor="rgba(88,166,255,0.045)", line=dict(color="rgba(88,166,255,0.07)", width=1),
                   layer="below"))
# running floors
for name, col in (("SOL", C_SOL), ("ETH", C_ETH), ("BTC", C_BTC)):
    v = sigma_floors[name]
    shapes.append(dict(type="line", xref="x5 domain", yref="y5", x0=0, x1=1, y0=v, y1=v,
                       line=dict(color=col, width=1.2, dash="dot"), opacity=0.8, layer="below"))


# legends (drawn as line samples + labels)
def legend_item(x0, x1, y, tx, label, color, width, size, dash=None):
    shapes.append(dict(type="line", xref="paper", yref="paper", x0=px(x0), x1=px(x1), y0=py(y), y1=py(y),
                       line=dict(color=color, width=width, dash=dash)))
    annotations.append(dict(text=label, x=px(tx), y=py(y), xref="paper", yref="paper", showarrow=False,
                            xanchor="left", yanchor="middle", font=dict(size=size, color=TXT, family=FONT)))


legend_item(143, 184, 207, 199, "BTC", C_BTC, 2.6, 18.5)
legend_item(274, 315, 207, 329, "ETH", C_ETH, 2.6, 18.5)
legend_item(405, 446, 207, 460, "SOL", C_SOL, 2.6, 18.5)
legend_item(138, 168, 662, 176, "U as computed (record)", C_U, 2.6, 14)
legend_item(138, 168, 683, 176, "U restated (current constants)", C_UR, 2.0, 14, dash="5px,3px")
legend_item(140, 174, 1177, 184, "B_net (min-to-date)", C_BNET, 3.2, 16)
legend_item(140, 174, 1200.5, 184, "basis", C_BASIS, 1.4, 16)
legend_item(140, 174, 1224, 184, "TaR95 (reporting)", C_TAR, 2.0, 16, dash="6px,4px")

annotations += [
    dict(text="GMX E1 shadow safety monitor - day snapshot 2026-07-27", x=0.5, y=py(58), xref="paper",
         yref="paper", showarrow=False, font=dict(size=25, color=TXT, family=FONT), xanchor="center",
         yanchor="middle"),
    dict(text="shadow / dry-run: observes and records only, nothing pages, nothing is written on-chain", x=0.5,
         y=py(89), xref="paper", yref="paper", showarrow=False, font=dict(size=25, color=TXT, family=FONT),
         xanchor="center", yanchor="middle"),
    dict(text="red line U = 1", x=px(1790), y=py(670), xref="paper", yref="paper", showarrow=False,
         font=dict(size=16, color=C_RED, family=FONT), xanchor="right", yanchor="middle"),
    dict(text="shaded = incident machine open (episode classification)", x=px(135), y=py(1303),
         xref="paper", yref="paper", showarrow=False, font=dict(size=16, color=MUTED, family=FONT),
         xanchor="left", yanchor="middle"),
    dict(text="dotted = running floors", x=px(135), y=py(1622), xref="paper", yref="paper",
         showarrow=False, font=dict(size=16, color=MUTED, family=FONT), xanchor="left", yanchor="middle"),
    dict(text="review thresholds: 20 per market / 15 aggregate (PROVISIONAL)", x=px(135), y=py(1945),
         xref="paper", yref="paper", showarrow=False, font=dict(size=16, color=MUTED, family=FONT),
         xanchor="left", yanchor="middle"),
    dict(text="UTC, 2026-07-27", x=px((XL + XR) / 2), y=py(2180), xref="paper", yref="paper",
         showarrow=False, font=dict(size=19, color=TXT, family=FONT), xanchor="center", yanchor="middle"),
    dict(text="637 ticks (637 ok) | schemas a6b-flows-1 | gaps shaded | generated 2026-07-27 21:12Z",
         x=px(17), y=py(2222), xref="paper", yref="paper", showarrow=False,
         font=dict(size=14, color=MUTED, family=FONT), xanchor="left", yanchor="middle"),
]
for i, (top, bot) in enumerate(panels_px):
    annotations.append(dict(text=ytitles[i], x=px(ytitle_x[i]), y=py((top + bot) / 2), xref="paper",
                            yref="paper", showarrow=False, textangle=-90,
                            font=dict(size=18.5, color=TXT, family=FONT), xanchor="center", yanchor="middle"))

fig.update_layout(
    width=W, height=H, margin=dict(l=0, r=0, t=0, b=0, pad=0, autoexpand=False),
    paper_bgcolor=BG, plot_bgcolor=BG, font=dict(family=FONT, color=TXT),
    shapes=shapes, annotations=annotations, showlegend=False,
    **axes,
)

fig.write_html("out.html")
